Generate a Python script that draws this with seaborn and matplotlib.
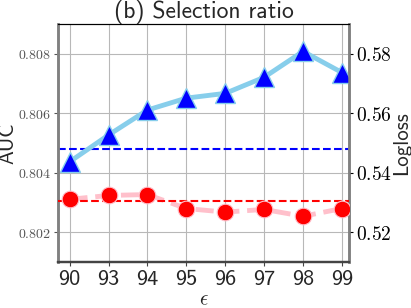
import numpy as np
import pandas as pd
import matplotlib
matplotlib.use("Agg")
import matplotlib.pyplot as plt
import seaborn as sns

eps_labels = ["90", "93", "94", "95", "96", "97", "98", "99"]
auc = [0.80437, 0.80527, 0.80611, 0.80651, 0.80667, 0.80721, 0.80808, 0.80737]
logloss = [0.5311, 0.5324, 0.5327, 0.5280, 0.5268, 0.5277, 0.5254, 0.5280]
auc_base = 0.8048
logloss_base = 0.5305
auc_ticks = [0.802, 0.804, 0.806, 0.808]
logloss_ticks = [0.52, 0.54, 0.56, 0.58]

sns.set_style("white")
plt.rcParams["mathtext.fontset"] = "cm"
plt.rcParams["font.family"] = ["DejaVu Sans"]
SANS = ["cmss10", "DejaVu Sans"]

df = pd.DataFrame({"x": np.arange(len(eps_labels)), "auc": auc, "logloss": logloss})

fig = plt.figure(figsize=(4.11, 3.08), dpi=100)
ax1 = fig.add_axes([0.141, 0.149, 0.708, 0.773])
ax2 = ax1.twinx()

sns.lineplot(data=df, x="x", y="auc", ax=ax1, color="#87CEEB", linewidth=3.5,
             marker="^", markersize=14, markerfacecolor="#0000FF",
             markeredgecolor="#87CEEB", markeredgewidth=1.0, zorder=3)
ax1.axhline(auc_base, color="#0000FF", linestyle="--", linewidth=1.5, zorder=2)

sns.lineplot(data=df, x="x", y="logloss", ax=ax2, color="#FFC0CB", linewidth=3.5,
             linestyle="--", zorder=2)
ax2.axhline(logloss_base, color="#FF0000", linestyle="--", linewidth=1.5, zorder=3)
sns.lineplot(data=df, x="x", y="logloss", ax=ax2, color="#FF0000", linewidth=0,
             marker="o", markersize=12, markerfacecolor="#FF0000",
             markeredgecolor="#FFC0CB", markeredgewidth=0.8, zorder=4)

ax1.set_xlim(-0.3, 7.18)
ax1.set_ylim(0.801, 0.809)
ax2.set_ylim(0.51, 0.59)

ax1.set_xticks(df["x"])
ax1.set_xticklabels(eps_labels, fontsize=16, family=SANS)
ax1.set_yticks(auc_ticks)
ax1.set_yticklabels([f"${v:.3f}$" for v in auc_ticks], fontsize=10, color="#555555")
ax2.set_yticks(logloss_ticks)
ax2.set_yticklabels([f"${v:.2f}$" for v in logloss_ticks], fontsize=14, color="black")

ax1.grid(True, color="#b8b8b8", linewidth=0.8)
ax1.set_axisbelow(True)

ax1.set_xlabel(r"$\epsilon$", fontsize=15, labelpad=0)
ax1.set_ylabel("AUC", fontsize=15, family=SANS, labelpad=0)
ax2.set_ylabel("Logloss", fontsize=15, family=SANS, labelpad=0)
ax1.set_title("(b) Selection ratio", fontsize=17, family=SANS, pad=3)

for ax in (ax1, ax2):
    ax.spines["top"].set_color("black")
    ax.spines["top"].set_linewidth(0.8)
    ax.spines["left"].set_color("#808080")
    ax.spines["left"].set_linewidth(1.8)
    ax.spines["right"].set_color("#808080")
    ax.spines["right"].set_linewidth(1.8)
    ax.spines["bottom"].set_color("#444444")
    ax.spines["bottom"].set_linewidth(1.6)

ax1.tick_params(axis="y", direction="out", length=3, width=0.8, color="#555555", pad=2, left=True)
ax1.tick_params(axis="x", direction="out", length=3, width=0.8, color="#444444", pad=3, bottom=True)
ax2.tick_params(axis="y", direction="out", length=3, width=0.8, color="black", pad=2, right=True)

fig.savefig("out.png", dpi=100)
